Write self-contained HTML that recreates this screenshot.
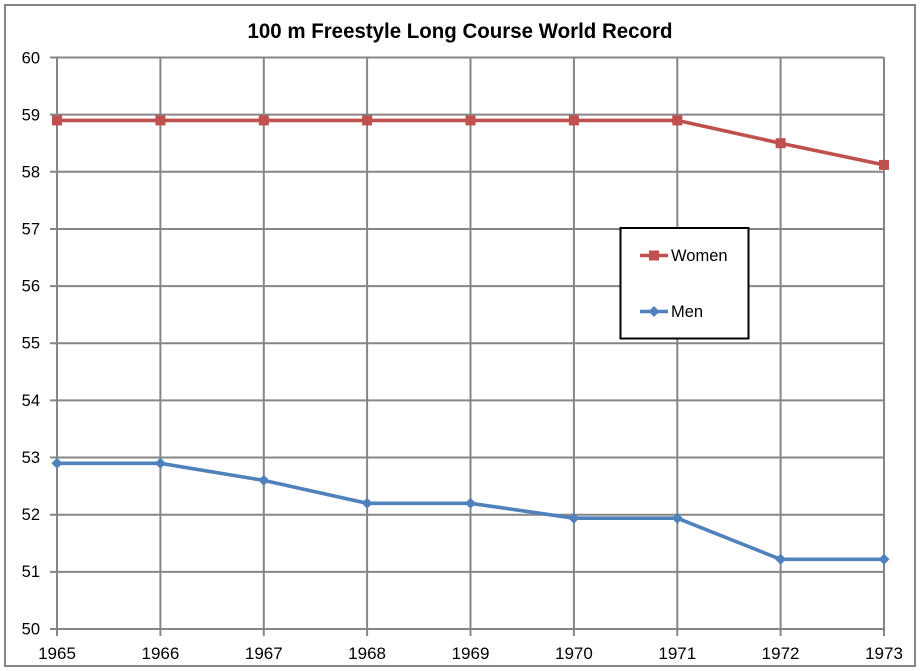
<!DOCTYPE html>
<html><head><meta charset="utf-8"><style>
html,body{margin:0;padding:0;background:#fff;}
svg{display:block;}
text{font-family:"Liberation Sans",sans-serif;fill:#000;}
</style></head><body>
<svg width="920" height="671" viewBox="0 0 920 671" xmlns="http://www.w3.org/2000/svg">
<rect x="0" y="0" width="920" height="671" fill="#fff"/>
<rect x="5" y="5" width="910" height="661" fill="none" stroke="#868686" stroke-width="2"/>
<text x="460" y="38" text-anchor="middle" font-size="21.5" font-weight="bold" textLength="425" lengthAdjust="spacingAndGlyphs">100 m Freestyle Long Course World Record</text>
<g stroke="#868686" stroke-width="2">
<line x1="50" y1="57.5" x2="884" y2="57.5"/>
<line x1="50" y1="114.65" x2="884" y2="114.65"/>
<line x1="50" y1="171.8" x2="884" y2="171.8"/>
<line x1="50" y1="228.95" x2="884" y2="228.95"/>
<line x1="50" y1="286.1" x2="884" y2="286.1"/>
<line x1="50" y1="343.25" x2="884" y2="343.25"/>
<line x1="50" y1="400.4" x2="884" y2="400.4"/>
<line x1="50" y1="457.55" x2="884" y2="457.55"/>
<line x1="50" y1="514.7" x2="884" y2="514.7"/>
<line x1="50" y1="571.85" x2="884" y2="571.85"/>
<line x1="50" y1="629" x2="884" y2="629"/>
<line x1="57" y1="57.5" x2="57" y2="636"/>
<line x1="160.4" y1="57.5" x2="160.4" y2="636"/>
<line x1="263.8" y1="57.5" x2="263.8" y2="636"/>
<line x1="367.1" y1="57.5" x2="367.1" y2="636"/>
<line x1="470.5" y1="57.5" x2="470.5" y2="636"/>
<line x1="573.9" y1="57.5" x2="573.9" y2="636"/>
<line x1="677.3" y1="57.5" x2="677.3" y2="636"/>
<line x1="780.6" y1="57.5" x2="780.6" y2="636"/>
<line x1="884" y1="57.5" x2="884" y2="636"/>
</g>
<g font-size="16.5" text-anchor="end">
<text x="40" y="63.5">60</text>
<text x="40" y="120.5">59</text>
<text x="40" y="177.5">58</text>
<text x="40" y="234.5">57</text>
<text x="40" y="291.5">56</text>
<text x="40" y="348.5">55</text>
<text x="40" y="406">54</text>
<text x="40" y="463">53</text>
<text x="40" y="520">52</text>
<text x="40" y="577">51</text>
<text x="40" y="634.5">50</text>
</g>
<g font-size="17" text-anchor="middle">
<text x="57" y="659">1965</text>
<text x="160.4" y="659">1966</text>
<text x="263.8" y="659">1967</text>
<text x="367.1" y="659">1968</text>
<text x="470.5" y="659">1969</text>
<text x="573.9" y="659">1970</text>
<text x="677.3" y="659">1971</text>
<text x="780.6" y="659">1972</text>
<text x="884" y="659">1973</text>
</g>
<!-- Women -->
<polyline fill="none" stroke="#c0504d" stroke-width="3.6" points="57,120.4 160.4,120.4 263.8,120.4 367.1,120.4 470.5,120.4 573.9,120.4 677.3,120.4 780.6,143.2 884,164.9"/>
<g fill="#c0504d">
<rect x="52" y="115.4" width="10" height="10"/>
<rect x="155.4" y="115.4" width="10" height="10"/>
<rect x="258.8" y="115.4" width="10" height="10"/>
<rect x="362.1" y="115.4" width="10" height="10"/>
<rect x="465.5" y="115.4" width="10" height="10"/>
<rect x="568.9" y="115.4" width="10" height="10"/>
<rect x="672.3" y="115.4" width="10" height="10"/>
<rect x="775.6" y="138.2" width="10" height="10"/>
<rect x="879" y="159.9" width="10" height="10"/>
</g>
<!-- Men -->
<polyline fill="none" stroke="#4f81bd" stroke-width="3.6" points="57,463.3 160.4,463.3 263.8,480.4 367.1,503.3 470.5,503.3 573.9,518.2 677.3,518.2 780.6,559.3 884,559.3"/>
<g fill="#4f81bd">
<path d="M57,457.8 l5.5,5.5 l-5.5,5.5 l-5.5,-5.5z"/>
<path d="M160.4,457.8 l5.5,5.5 l-5.5,5.5 l-5.5,-5.5z"/>
<path d="M263.8,474.9 l5.5,5.5 l-5.5,5.5 l-5.5,-5.5z"/>
<path d="M367.1,497.8 l5.5,5.5 l-5.5,5.5 l-5.5,-5.5z"/>
<path d="M470.5,497.8 l5.5,5.5 l-5.5,5.5 l-5.5,-5.5z"/>
<path d="M573.9,512.7 l5.5,5.5 l-5.5,5.5 l-5.5,-5.5z"/>
<path d="M677.3,512.7 l5.5,5.5 l-5.5,5.5 l-5.5,-5.5z"/>
<path d="M780.6,553.8 l5.5,5.5 l-5.5,5.5 l-5.5,-5.5z"/>
<path d="M884,553.8 l5.5,5.5 l-5.5,5.5 l-5.5,-5.5z"/>
</g>
<!-- Legend -->
<rect x="620.5" y="228" width="128" height="110.5" fill="#fff" stroke="#000" stroke-width="2"/>
<line x1="640" y1="255.5" x2="668" y2="255.5" stroke="#c0504d" stroke-width="3.6"/>
<rect x="649" y="250.5" width="10" height="10" fill="#c0504d"/>
<text x="671" y="261" font-size="16.5">Women</text>
<line x1="640" y1="311.5" x2="668" y2="311.5" stroke="#4f81bd" stroke-width="3.6"/>
<path d="M654,306 l5.5,5.5 l-5.5,5.5 l-5.5,-5.5z" fill="#4f81bd"/>
<text x="671" y="317" font-size="16.5">Men</text>
</svg>
</body></html>
